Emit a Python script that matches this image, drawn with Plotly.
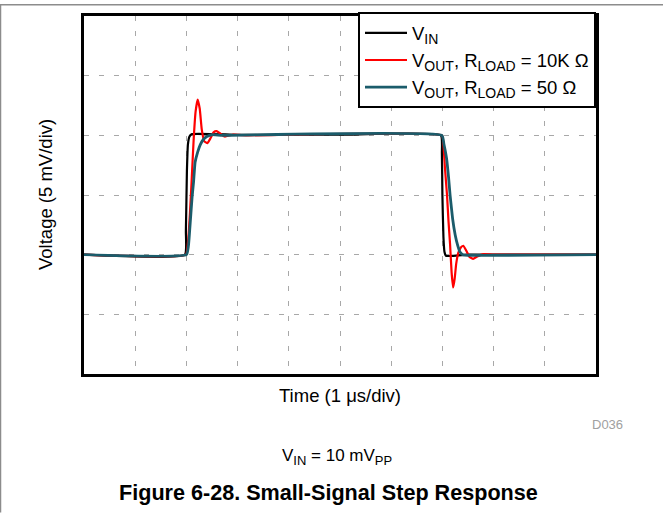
import plotly.graph_objects as go

# time in divisions (1 us/div), voltage in divisions (5 mV/div)
vin_t = [0, 1.97, 1.99, 2.01, 2.03, 2.06, 2.10, 3.0, 5.0, 6.97, 6.99, 7.0, 7.02, 7.04, 7.07, 7.2, 7.5, 10]
vin_v = [2.0, 2.0, 2.4, 3.4, 3.85, 3.98, 4.02, 4.01, 4.01, 4.0, 3.7, 3.0, 2.3, 2.05, 1.98, 1.98, 2.0, 2.0]

red_t = [0, 1.99, 2.03, 2.07, 2.10, 2.14, 2.18, 2.22, 2.26, 2.30, 2.35, 2.41, 2.47, 2.53, 2.59, 2.66, 2.75, 2.9, 3.2,
         6.99, 7.02, 7.05, 7.09, 7.12, 7.15, 7.18, 7.21, 7.24, 7.27, 7.31, 7.36, 7.41, 7.47, 7.53, 7.6, 7.68, 7.8, 8.0, 10]
red_v = [2.0, 2.0, 2.2, 2.7, 3.2, 3.9, 4.4, 4.6, 4.45, 4.1, 3.9, 3.87, 3.95, 4.05, 4.07, 4.03, 3.98, 4.01, 4.0,
         4.0, 3.85, 3.45, 3.0, 2.55, 2.17, 1.7, 1.45, 1.6, 1.85, 2.03, 2.12, 2.15, 2.06, 1.96, 1.93, 1.97, 2.01, 2.0, 2.0]

teal_t = [0, 2.0, 2.04, 2.08, 2.11, 2.14, 2.17, 2.22, 2.27, 2.33, 2.4, 2.5, 2.7,
          6.99, 7.03, 7.08, 7.12, 7.15, 7.2, 7.25, 7.3, 7.34, 7.4, 7.5, 10]
teal_v = [2.0, 2.0, 2.15, 2.6, 2.95, 3.22, 3.55, 3.72, 3.84, 3.93, 3.98, 4.01, 4.0,
          4.0, 3.85, 3.62, 3.3, 3.0, 2.6, 2.33, 2.15, 2.05, 2.0, 1.99, 2.0]


def sub(s, size=14):
    return f"<sub><span style=\"font-size:{size}px\">{s}</span></sub>"


names = ["V" + sub("IN"),
         "V" + sub("OUT") + ", R" + sub("LOAD") + " = 10K Ω",
         "V" + sub("OUT") + ", R" + sub("LOAD") + " = 50 Ω"]
colors = ["#000000", "#FF0000", "#1B5C6B"]
widths = [2.2, 2.2, 2.8]

fig = go.Figure()
for t, v, n, c, w in zip([vin_t, red_t, teal_t], [vin_v, red_v, teal_v], names, colors, widths):
    fig.add_trace(go.Scatter(x=t, y=v, mode="lines", name=n,
                             line=dict(color=c, width=w, shape="spline", smoothing=0.4)))

L, R, T, B = 84, 596, 12, 374
W, H = 663, 514

def px(x):
    return (x - L) / (R - L)

def py(y):
    return (B - y) / (B - T)

font = "Arial, Liberation Sans, sans-serif"
ax = dict(range=[0, 10], dtick=1, showticklabels=False, ticks="",
          showgrid=True, gridcolor="#A8A8A8", gridwidth=1, griddash="5px,10px",
          zeroline=False, showline=True, linecolor="black", linewidth=3, mirror=True)
ay = dict(ax, range=[0, 6])

fig.update_layout(
    width=W, height=H,
    margin=dict(l=L, r=W - R, t=T, b=H - B),
    paper_bgcolor="white", plot_bgcolor="white",
    xaxis=ax, yaxis=ay,
    font=dict(family=font, size=14, color="black"),
    showlegend=True,
    legend=dict(x=1, y=1.01, xanchor="right", yanchor="top",
                bgcolor="white", bordercolor="black", borderwidth=2,
                font=dict(family=font, size=18.5), tracegroupgap=0,
                itemwidth=42),
    annotations=[
        dict(text="Time (1 μs/div)", x=px(340), y=py(396), xref="paper", yref="paper",
             showarrow=False, font=dict(size=18.5), xanchor="center", yanchor="middle"),
        dict(text="Voltage (5 mV/div)", x=px(45), y=py(193), xref="paper", yref="paper",
             showarrow=False, font=dict(size=18.5), textangle=-90, xanchor="center", yanchor="middle"),
        dict(text="D036", x=px(625), y=py(425), xref="paper", yref="paper",
             showarrow=False, font=dict(size=13, color="#A0A0A0"), xanchor="right", yanchor="middle"),
        dict(text="V" + sub("IN", 13) + " = 10 mV" + sub("PP", 13), x=px(337), y=py(458),
             xref="paper", yref="paper",
             showarrow=False, font=dict(size=17), xanchor="center", yanchor="middle"),
        dict(text="<b>Figure 6-28. Small-Signal Step Response</b>", x=px(328), y=py(494),
             xref="paper", yref="paper",
             showarrow=False, font=dict(size=21.6), xanchor="center", yanchor="middle"),
    ],
    shapes=[
        dict(type="line", xref="paper", yref="paper", x0=px(0), x1=px(W), y0=py(0.5), y1=py(0.5),
             line=dict(color="#8C8C8C", width=1.5)),
        dict(type="line", xref="paper", yref="paper", x0=px(0.5), x1=px(0.5), y0=py(0), y1=py(H),
             line=dict(color="#8C8C8C", width=1.5)),
    ],
)

fig.write_html("out.html", config={"displayModeBar": False},
               post_script="document.body.style.margin='0';document.body.style.padding='0';"
                           "document.documentElement.style.overflow='hidden';")
